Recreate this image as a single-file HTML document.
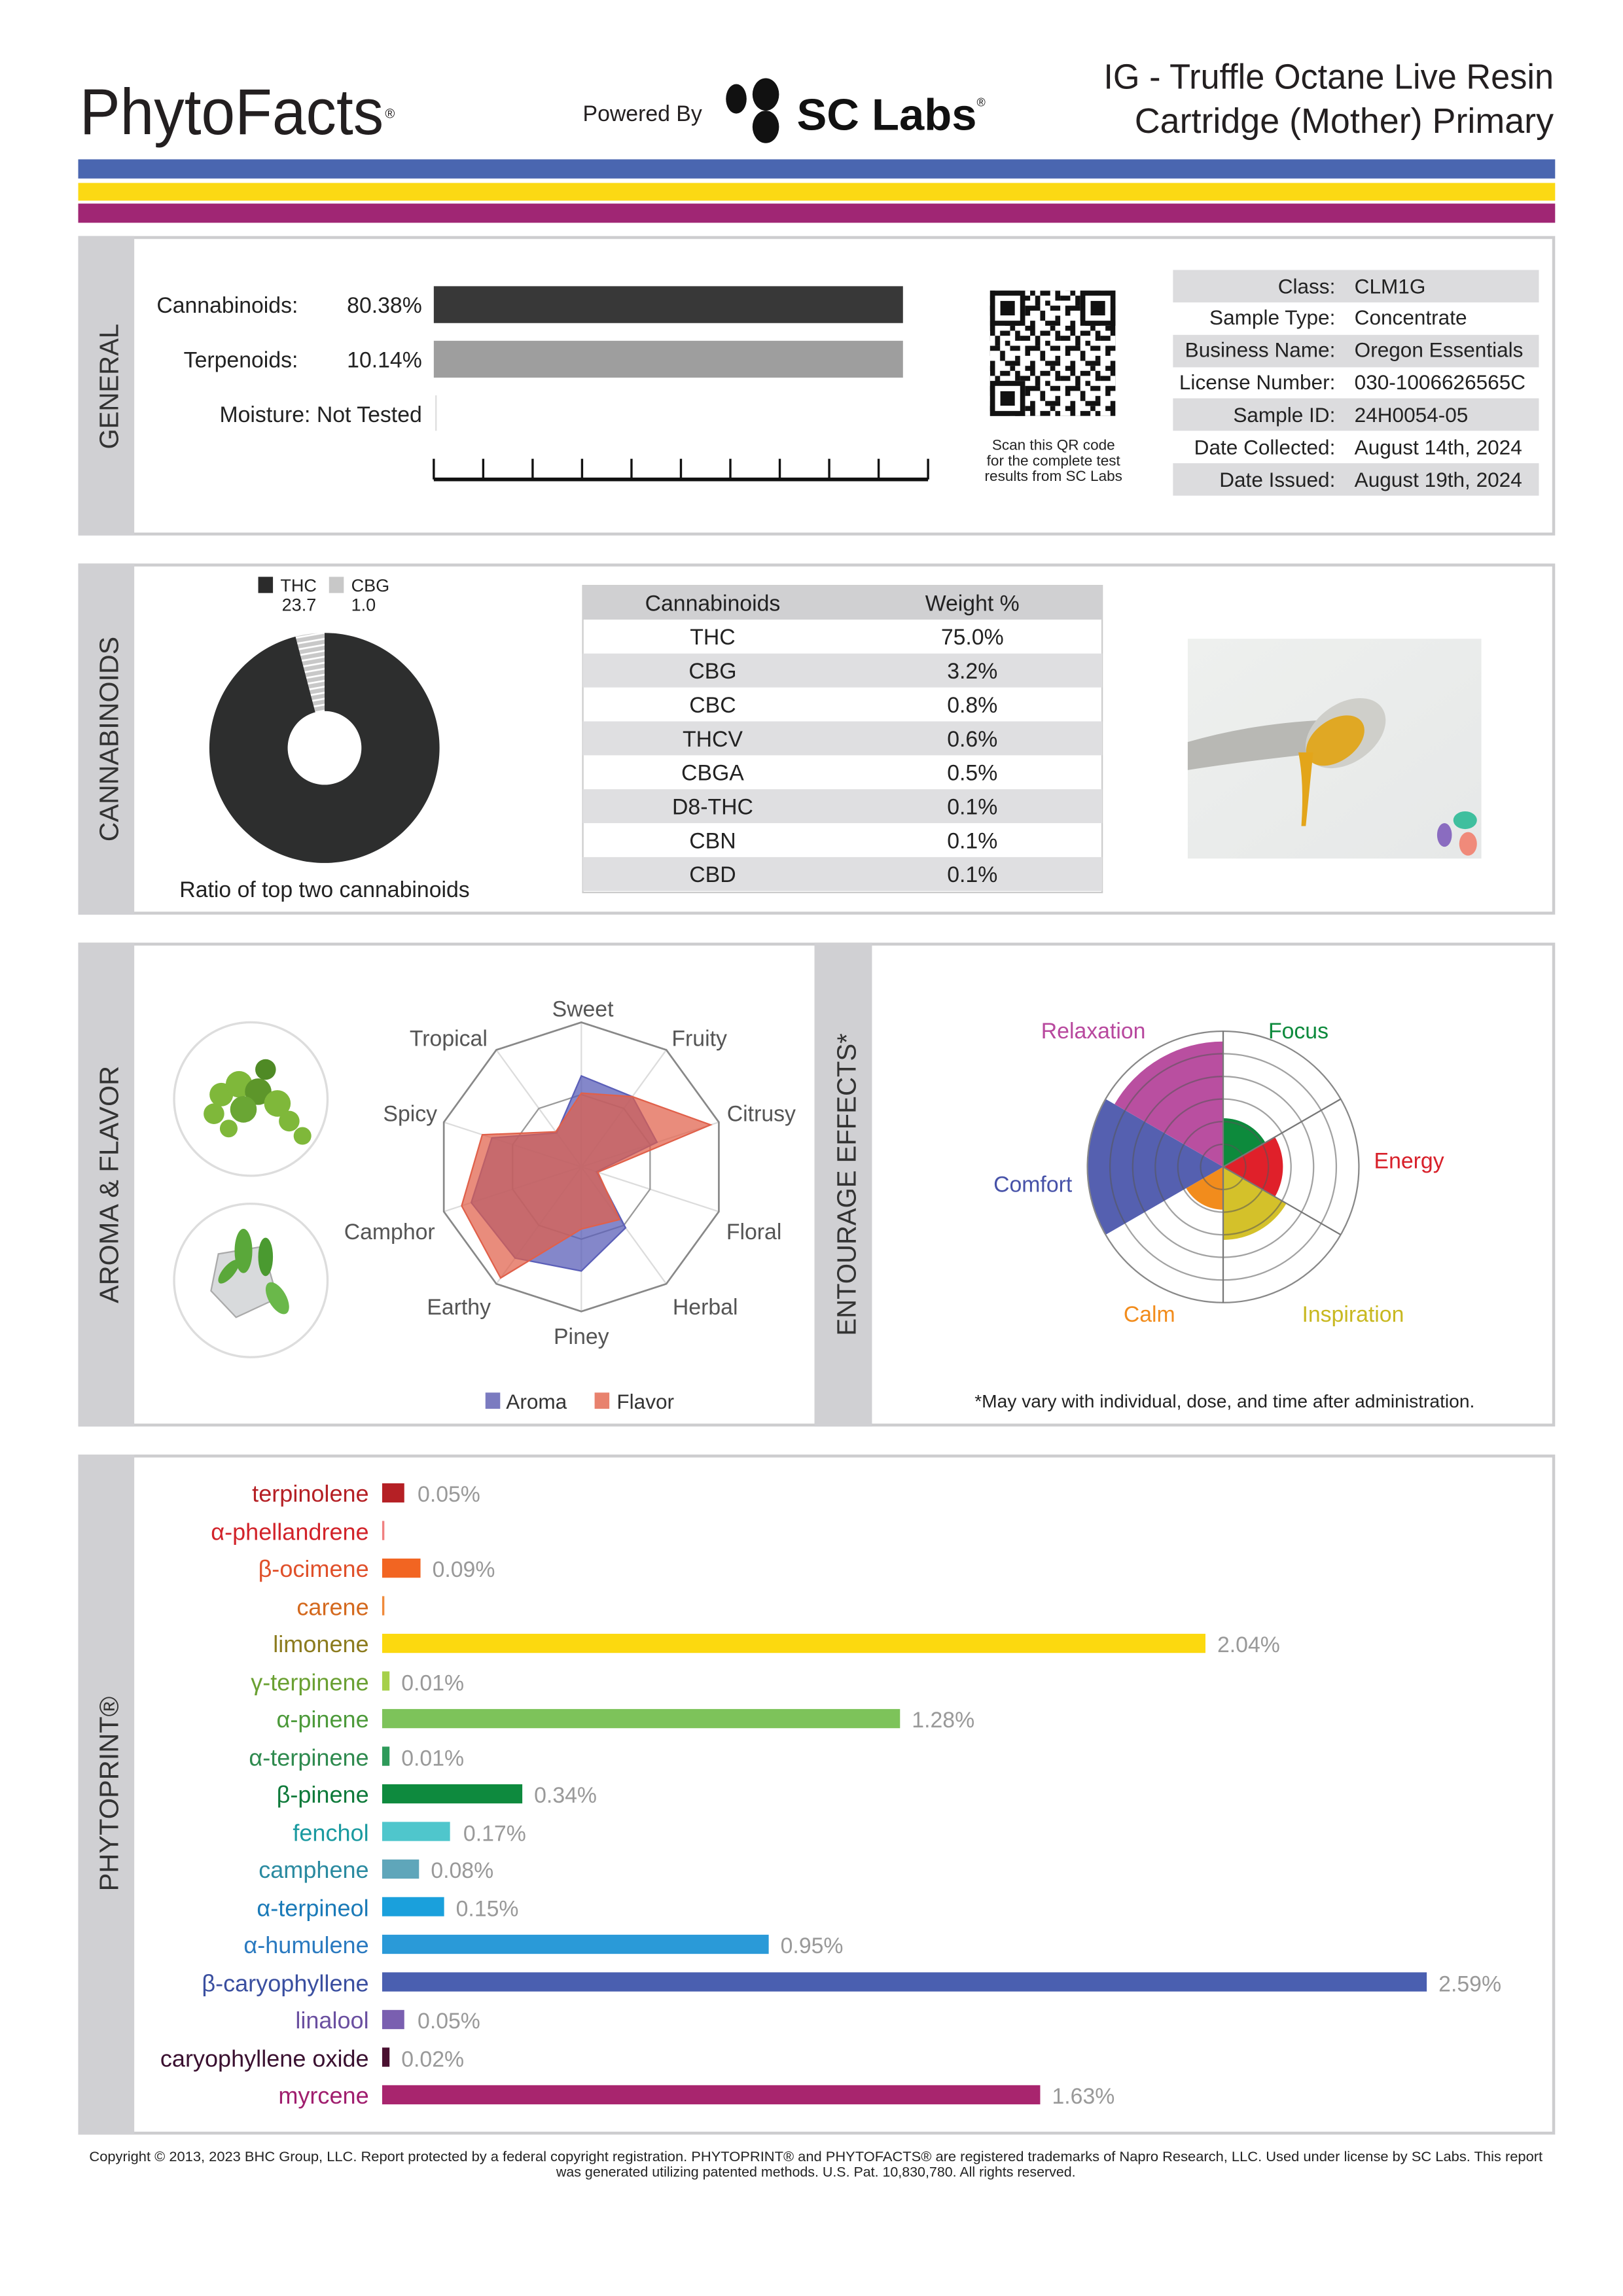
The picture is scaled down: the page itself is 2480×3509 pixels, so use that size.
<!DOCTYPE html>
<html><head><meta charset="utf-8"><style>
html,body{margin:0;padding:0;background:#fff}
svg{display:block}
text{font-family:"Liberation Sans",sans-serif}
</style></head><body>
<svg width="2480" height="3509" viewBox="0 0 1100 1556.4" xmlns="http://www.w3.org/2000/svg">
<defs>
<pattern id="qr" x="671" y="197" width="27.2" height="27.2" patternUnits="userSpaceOnUse">
<rect width="27.2" height="27.2" fill="#fff"/>
<g fill="#111">
<rect x="0" y="0" width="3.4" height="3.4"/><rect x="6.8" y="0" width="6.8" height="3.4"/><rect x="17" y="0" width="3.4" height="6.8"/>
<rect x="3.4" y="3.4" width="3.4" height="6.8"/><rect x="10.2" y="6.8" width="3.4" height="3.4"/><rect x="20.4" y="3.4" width="6.8" height="3.4"/>
<rect x="0" y="10.2" width="6.8" height="3.4"/><rect x="13.6" y="10.2" width="6.8" height="3.4"/><rect x="23.8" y="10.2" width="3.4" height="6.8"/>
<rect x="6.8" y="13.6" width="3.4" height="6.8"/><rect x="17" y="17" width="3.4" height="3.4"/><rect x="0" y="20.4" width="3.4" height="6.8"/>
<rect x="10.2" y="20.4" width="10.2" height="3.4"/><rect x="23.8" y="23.8" width="3.4" height="3.4"/><rect x="13.6" y="23.8" width="3.4" height="3.4"/>
</g></pattern>
<pattern id="hatch" width="4" height="4" patternUnits="userSpaceOnUse" patternTransform="rotate(80)">
<rect width="4" height="4" fill="#c8c8c8"/><rect width="1.2" height="4" fill="#fff"/></pattern>
<linearGradient id="photo" x1="0" y1="0" x2="1" y2="1"><stop offset="0" stop-color="#eef0ee"/><stop offset="1" stop-color="#e6e8e8"/></linearGradient>
</defs>

<!-- Header -->
<text x="54" y="91" font-size="44" fill="#231f20" textLength="206" lengthAdjust="spacingAndGlyphs">PhytoFacts</text>
<text x="261" y="80" font-size="9" fill="#231f20">®</text>
<text x="395" y="82" font-size="15" fill="#231f20">Powered By</text>
<ellipse cx="499" cy="67" rx="7" ry="10" fill="#111"/>
<ellipse cx="519" cy="64" rx="9" ry="11" fill="#111"/>
<ellipse cx="519" cy="86" rx="9" ry="11" fill="#111"/>
<text x="540" y="88" font-size="30" font-weight="bold" fill="#111" textLength="122" lengthAdjust="spacingAndGlyphs">SC Labs</text>
<text x="662" y="72" font-size="8" fill="#111">®</text>
<text x="1053" y="60" font-size="24" fill="#231f20" text-anchor="end" textLength="305" lengthAdjust="spacingAndGlyphs">IG - Truffle Octane Live Resin</text>
<text x="1053" y="90" font-size="24" fill="#231f20" text-anchor="end" textLength="284" lengthAdjust="spacingAndGlyphs">Cartridge (Mother) Primary</text>

<rect x="53" y="108" width="1001" height="13" fill="#4a66b0"/>
<rect x="53" y="124" width="1001" height="12" fill="#fbd914"/>
<rect x="53" y="138" width="1001" height="13" fill="#a02674"/>

<!-- GENERAL -->
<rect x="54" y="161" width="999" height="201" fill="#fff" stroke="#cdcdcf" stroke-width="2"/>
<rect x="53" y="160" width="38" height="203" fill="#d0d0d3"/>
<text transform="translate(80,262) rotate(-90)" font-size="18" fill="#333" text-anchor="middle" textLength="85" lengthAdjust="spacingAndGlyphs">GENERAL</text>
<g font-size="15" fill="#222">
<text x="202" y="212" text-anchor="end">Cannabinoids:</text>
<text x="286" y="212" text-anchor="end">80.38%</text>
<text x="202" y="249" text-anchor="end">Terpenoids:</text>
<text x="286" y="249" text-anchor="end">10.14%</text>
<text x="286" y="286" text-anchor="end">Moisture:  Not Tested</text>
</g>
<rect x="294" y="194" width="318" height="25" fill="#383838"/>
<rect x="294" y="231" width="318" height="25" fill="#9e9e9e"/>
<rect x="295" y="268" width="1" height="24" fill="#ddd"/>
<g stroke="#111" stroke-width="1.5">
<line x1="294" y1="325" x2="629" y2="325" stroke-width="2.5"/>
<line x1="294" y1="311" x2="294" y2="325"/><line x1="327.5" y1="311" x2="327.5" y2="325"/><line x1="361" y1="311" x2="361" y2="325"/><line x1="394.5" y1="311" x2="394.5" y2="325"/><line x1="428" y1="311" x2="428" y2="325"/><line x1="461.5" y1="311" x2="461.5" y2="325"/><line x1="495" y1="311" x2="495" y2="325"/><line x1="528.5" y1="311" x2="528.5" y2="325"/><line x1="562" y1="311" x2="562" y2="325"/><line x1="595.5" y1="311" x2="595.5" y2="325"/><line x1="629" y1="311" x2="629" y2="325"/>
</g>
<rect x="671" y="197" width="85" height="85" fill="url(#qr)"/>
<g fill="#fff" stroke="#111" stroke-width="3.4">
<rect x="672.7" y="198.7" width="20.4" height="20.4"/><rect x="733.9" y="198.7" width="20.4" height="20.4"/><rect x="672.7" y="259.9" width="20.4" height="20.4"/>
</g>
<g fill="#111"><rect x="678" y="204" width="9.8" height="9.8"/><rect x="739.2" y="204" width="9.8" height="9.8"/><rect x="678" y="265.2" width="9.8" height="9.8"/></g>
<g font-size="10" fill="#222" text-anchor="middle">
<text x="714" y="305">Scan this QR code</text><text x="714" y="315.5">for the complete test</text><text x="714" y="326">results from SC Labs</text>
</g>
<g fill="#dcdcde">
<rect x="795" y="183" width="248" height="22"/><rect x="795" y="227" width="248" height="22"/><rect x="795" y="270" width="248" height="22"/><rect x="795" y="314" width="248" height="22"/>
</g>
<g font-size="14" fill="#222">
<text x="905" y="199" text-anchor="end">Class:</text><text x="918" y="199">CLM1G</text>
<text x="905" y="220" text-anchor="end">Sample Type:</text><text x="918" y="220">Concentrate</text>
<text x="905" y="242" text-anchor="end">Business Name:</text><text x="918" y="242">Oregon Essentials</text>
<text x="905" y="264" text-anchor="end">License Number:</text><text x="918" y="264">030-1006626565C</text>
<text x="905" y="286" text-anchor="end">Sample ID:</text><text x="918" y="286">24H0054-05</text>
<text x="905" y="308" text-anchor="end">Date Collected:</text><text x="918" y="308">August 14th, 2024</text>
<text x="905" y="330" text-anchor="end">Date Issued:</text><text x="918" y="330">August 19th, 2024</text>
</g>

<!-- CANNABINOIDS -->
<rect x="54" y="383" width="999" height="236" fill="#fff" stroke="#cdcdcf" stroke-width="2"/>
<rect x="53" y="382" width="38" height="238" fill="#d0d0d3"/>
<text transform="translate(80,501) rotate(-90)" font-size="18" fill="#333" text-anchor="middle" textLength="139" lengthAdjust="spacingAndGlyphs">CANNABINOIDS</text>
<rect x="175" y="391" width="10" height="11" fill="#2b2b2b"/>
<text x="190" y="401" font-size="12" fill="#222">THC</text>
<text x="191" y="414" font-size="12" fill="#222">23.7</text>
<rect x="223" y="391" width="10" height="11" fill="#c8c8c8"/>
<text x="238" y="401" font-size="12" fill="#222">CBG</text>
<text x="238" y="414" font-size="12" fill="#222">1.0</text>
<path d="M220,429 A78,78 0 1 1 200.3,431.5 L213.7,482.8 A25,25 0 1 0 220,482 Z" fill="#2d2e2e" fill-rule="evenodd"/>
<path d="M220,429 L220,482 A25,25 0 0 0 213.7,482.8 L200.3,431.5 A78,78 0 0 1 220,429 Z" fill="url(#hatch)"/>
<text x="220" y="608" font-size="15" fill="#222" text-anchor="middle">Ratio of top two cannabinoids</text>
<rect x="395" y="397" width="352" height="208" fill="#fff" stroke="#ccc" stroke-width="1"/>
<rect x="395" y="397" width="352" height="23" fill="#d0d0d2"/>
<g fill="#dfdfe1"><rect x="395" y="443" width="352" height="23"/><rect x="395" y="489" width="352" height="23"/><rect x="395" y="535" width="352" height="23"/><rect x="395" y="581" width="352" height="23"/></g>
<g font-size="15" fill="#222" text-anchor="middle">
<text x="483" y="414">Cannabinoids</text><text x="659" y="414">Weight %</text>
<text x="483" y="437">THC</text><text x="659" y="437">75.0%</text>
<text x="483" y="460">CBG</text><text x="659" y="460">3.2%</text>
<text x="483" y="483">CBC</text><text x="659" y="483">0.8%</text>
<text x="483" y="506">THCV</text><text x="659" y="506">0.6%</text>
<text x="483" y="529">CBGA</text><text x="659" y="529">0.5%</text>
<text x="483" y="552">D8-THC</text><text x="659" y="552">0.1%</text>
<text x="483" y="575">CBN</text><text x="659" y="575">0.1%</text>
<text x="483" y="598">CBD</text><text x="659" y="598">0.1%</text>
</g>
<rect x="805" y="433" width="199" height="149" fill="url(#photo)"/>
<path d="M805,503 Q850,490 900,488 L900,510 Q850,515 805,522 Z" fill="#b8b8b4"/>
<ellipse cx="912" cy="497" rx="30" ry="20" transform="rotate(-35 912 497)" fill="#cfcfca"/>
<ellipse cx="905" cy="502" rx="22" ry="14" transform="rotate(-35 905 502)" fill="#e0a824"/>
<path d="M880,510 Q884,530 882,560 L885,560 Q888,530 890,510 Z" fill="#e3a51a"/>
<ellipse cx="993" cy="556" rx="8" ry="6" fill="#3fbf9e"/>
<ellipse cx="979" cy="566" rx="5" ry="8" fill="#8a6cc0"/>
<ellipse cx="995" cy="572" rx="6" ry="8" fill="#f08a7a"/>

<!-- AROMA & FLAVOR -->
<rect x="54" y="640" width="999" height="326" fill="#fff" stroke="#cdcdcf" stroke-width="2"/>
<rect x="53" y="639" width="38" height="328" fill="#d0d0d3"/>
<rect x="552" y="639" width="39" height="328" fill="#d0d0d3"/>
<text transform="translate(80,803) rotate(-90)" font-size="18" fill="#333" text-anchor="middle" textLength="161" lengthAdjust="spacingAndGlyphs">AROMA &amp; FLAVOR</text>
<text transform="translate(580,803) rotate(-90)" font-size="18" fill="#333" text-anchor="middle" textLength="205" lengthAdjust="spacingAndGlyphs">ENTOURAGE EFFECTS*</text>
<circle cx="170" cy="745" r="52" fill="#fff" stroke="#ddd" stroke-width="1.5"/>
<circle cx="170" cy="868" r="52" fill="#fff" stroke="#ddd" stroke-width="1.5"/>
<g fill="#7fb83a">
<circle cx="150" cy="742" r="8"/><circle cx="162" cy="735" r="9"/><circle cx="175" cy="740" r="9" fill="#5d962a"/><circle cx="188" cy="748" r="9"/><circle cx="196" cy="760" r="7"/><circle cx="165" cy="752" r="9" fill="#6aa634"/><circle cx="145" cy="755" r="7"/><circle cx="180" cy="725" r="7" fill="#4f8a25"/><circle cx="205" cy="770" r="6"/><circle cx="155" cy="765" r="6"/>
</g>
<g>
<path d="M148,850 L178,845 L188,880 L160,893 L143,875 Z" fill="#d8dadc" stroke="#aaa" stroke-width="1"/>
<ellipse cx="165" cy="848" rx="6" ry="15" fill="#5aa83a"/>
<ellipse cx="180" cy="852" rx="5" ry="13" fill="#4a9a30"/>
<ellipse cx="188" cy="880" rx="6" ry="12" fill="#6ab84a" transform="rotate(-30 188 880)"/>
<ellipse cx="155" cy="862" rx="4" ry="10" fill="#5aa83a" transform="rotate(40 155 862)"/>
</g>
<g stroke="#dcdcdc" stroke-width="1" fill="none">
<line x1="394" y1="791" x2="394" y2="693"/><line x1="394" y1="791" x2="451.6" y2="711.7"/><line x1="394" y1="791" x2="487.2" y2="760.7"/><line x1="394" y1="791" x2="487.2" y2="821.3"/><line x1="394" y1="791" x2="451.6" y2="870.3"/><line x1="394" y1="791" x2="394" y2="889"/><line x1="394" y1="791" x2="336.4" y2="870.3"/><line x1="394" y1="791" x2="300.8" y2="821.3"/><line x1="394" y1="791" x2="300.8" y2="760.7"/><line x1="394" y1="791" x2="336.4" y2="711.7"/>
<polygon points="394,742 422.8,751.4 440.6,775.9 440.6,806.1 422.8,830.6 394,840 365.2,830.6 347.4,806.1 347.4,775.9 365.2,751.4" stroke="#999"/>
</g>
<polygon points="394,693 451.6,711.7 487.2,760.7 487.2,821.3 451.6,870.3 394,889 336.4,870.3 300.8,821.3 300.8,760.7 336.4,711.7" fill="none" stroke="#888" stroke-width="1.2"/>
<polygon points="394,729.3 428.6,743.4 445.3,774.3 404.3,794.3 424,832.3 394,861.6 349.1,852.8 319.4,815.2 333.4,771.3 377.3,768" fill="#5b5fb8" fill-opacity="0.75" stroke="#5b5fb8" stroke-width="1"/>
<polygon points="394,741 428.6,743.4 481.6,762.5 405.2,794.6 419.9,826.7 394,833.1 339.3,866.3 312.9,817.4 326.9,769.2 376.7,767.2" fill="#e0604a" fill-opacity="0.72" stroke="#e0604a" stroke-width="1"/>
<g font-size="15" fill="#555" text-anchor="middle">
<text x="395" y="689">Sweet</text><text x="474" y="709">Fruity</text><text x="516" y="760">Citrusy</text><text x="511" y="840">Floral</text><text x="478" y="891">Herbal</text><text x="394" y="911">Piney</text><text x="311" y="891">Earthy</text><text x="264" y="840">Camphor</text><text x="278" y="760">Spicy</text><text x="304" y="709">Tropical</text>
</g>
<rect x="329" y="944" width="10" height="11" fill="#7b7bc0"/>
<text x="343" y="955" font-size="14" fill="#333">Aroma</text>
<rect x="403" y="944" width="10" height="11" fill="#e8826e"/>
<text x="418" y="955" font-size="14" fill="#333">Flavor</text>

<!-- Entourage polar -->
<path d="M829,791 L829,758 A33,33 0 0 1 857.6,774.5 Z" fill="#0d8a3c"/>
<path d="M829,791 L864.1,770.75 A40.5,40.5 0 0 1 864.1,811.25 Z" fill="#e0202a"/>
<path d="M829,791 L871.9,815.75 A49.5,49.5 0 0 1 829,840.5 Z" fill="#d4c12a"/>
<path d="M829,791 L829,820 A29,29 0 0 1 803.9,805.5 Z" fill="#f28c1c"/>
<path d="M829,791 L749.3,837 A92,92 0 0 1 749.3,745 Z" fill="#5560b0"/>
<path d="M829,791 L755.4,748.5 A85,85 0 0 1 829,706 Z" fill="#b94fa0"/>
<g fill="none" stroke="#555" stroke-opacity="0.55" stroke-width="1">
<circle cx="829" cy="791" r="15.3"/><circle cx="829" cy="791" r="30.7"/><circle cx="829" cy="791" r="46"/><circle cx="829" cy="791" r="61.3"/><circle cx="829" cy="791" r="76.7"/>
</g>
<circle cx="829" cy="791" r="92" fill="none" stroke="#888" stroke-width="1"/>
<g stroke="#777" stroke-width="1">
<line x1="829" y1="699" x2="829" y2="883"/><line x1="829" y1="791" x2="908.7" y2="745"/><line x1="829" y1="791" x2="908.7" y2="837"/>
</g>
<g font-size="15" text-anchor="middle">
<text x="741" y="704" fill="#b8489e">Relaxation</text>
<text x="880" y="704" fill="#0d8a3c">Focus</text>
<text x="955" y="792" fill="#d8202a">Energy</text>
<text x="700" y="808" fill="#4752a8">Comfort</text>
<text x="779" y="896" fill="#f28c1c">Calm</text>
<text x="917" y="896" fill="#c8b820">Inspiration</text>
</g>
<text x="830" y="954" font-size="12.5" fill="#222" text-anchor="middle">*May vary with individual, dose, and time after administration.</text>

<!-- PHYTOPRINT -->
<rect x="54" y="987" width="999" height="459" fill="#fff" stroke="#cdcdcf" stroke-width="2"/>
<rect x="53" y="986" width="38" height="461" fill="#d0d0d3"/>
<text transform="translate(80,1216) rotate(-90)" font-size="18" fill="#333" text-anchor="middle" textLength="132" lengthAdjust="spacingAndGlyphs">PHYTOPRINT®</text>
<g font-size="16" text-anchor="end">
<text x="250" y="1018" fill="#b52025">terpinolene</text>
<text x="250" y="1044" fill="#d2232a">α-phellandrene</text>
<text x="250" y="1069" fill="#e0502a">β-ocimene</text>
<text x="250" y="1095" fill="#d4691e">carene</text>
<text x="250" y="1120" fill="#8c7b1e">limonene</text>
<text x="250" y="1146" fill="#6aa032">γ-terpinene</text>
<text x="250" y="1171" fill="#4c9a3a">α-pinene</text>
<text x="250" y="1197" fill="#2e8a4e">α-terpinene</text>
<text x="250" y="1222" fill="#0e7a3a">β-pinene</text>
<text x="250" y="1248" fill="#1a9aa0">fenchol</text>
<text x="250" y="1273" fill="#2a8aa0">camphene</text>
<text x="250" y="1299" fill="#1a7ab8">α-terpineol</text>
<text x="250" y="1324" fill="#2a7ac0">α-humulene</text>
<text x="250" y="1350" fill="#3a4fa0">β-caryophyllene</text>
<text x="250" y="1375" fill="#6a4fa0">linalool</text>
<text x="250" y="1401" fill="#3a1030">caryophyllene oxide</text>
<text x="250" y="1426" fill="#a01e6e">myrcene</text>
</g>
<rect x="259" y="1005.5" width="15" height="13" fill="#b52025"/>
<rect x="259" y="1031" width="1.5" height="13" fill="#f08080"/>
<rect x="259" y="1056.5" width="26" height="13" fill="#f26522"/>
<rect x="259" y="1082" width="1.5" height="13" fill="#f08a3a"/>
<rect x="259" y="1107.5" width="558" height="13" fill="#fcd90f"/>
<rect x="259" y="1133" width="5" height="13" fill="#a6d04a"/>
<rect x="259" y="1158.5" width="351" height="13" fill="#7dc35a"/>
<rect x="259" y="1184" width="5" height="13" fill="#2e9a5a"/>
<rect x="259" y="1209.5" width="95" height="13" fill="#0e8a3e"/>
<rect x="259" y="1235" width="46" height="13" fill="#4fc6cc"/>
<rect x="259" y="1260.5" width="25" height="13" fill="#5fa6ba"/>
<rect x="259" y="1286" width="42" height="13" fill="#1aa0dc"/>
<rect x="259" y="1311.5" width="262" height="13" fill="#2a9ad8"/>
<rect x="259" y="1337" width="708" height="13" fill="#4a5fb0"/>
<rect x="259" y="1362.5" width="15" height="13" fill="#7a5fb0"/>
<rect x="259" y="1388" width="5" height="13" fill="#4a1030"/>
<rect x="259" y="1413.5" width="446" height="13" fill="#a8256e"/>
<g font-size="15" fill="#999">
<text x="283" y="1018">0.05%</text>
<text x="293" y="1069">0.09%</text>
<text x="825" y="1120">2.04%</text>
<text x="272" y="1146">0.01%</text>
<text x="618" y="1171">1.28%</text>
<text x="272" y="1197">0.01%</text>
<text x="362" y="1222">0.34%</text>
<text x="314" y="1248">0.17%</text>
<text x="292" y="1273">0.08%</text>
<text x="309" y="1299">0.15%</text>
<text x="529" y="1324">0.95%</text>
<text x="975" y="1350">2.59%</text>
<text x="283" y="1375">0.05%</text>
<text x="272" y="1401">0.02%</text>
<text x="713" y="1426">1.63%</text>
</g>

<g font-size="9.5" fill="#222" text-anchor="middle">
<text x="553" y="1465" textLength="985" lengthAdjust="spacingAndGlyphs">Copyright © 2013, 2023 BHC Group, LLC. Report protected by a federal copyright registration. PHYTOPRINT® and PHYTOFACTS® are registered trademarks of Napro Research, LLC. Used under license by SC Labs. This report</text>
<text x="553" y="1475.5">was generated utilizing patented methods. U.S. Pat. 10,830,780. All rights reserved.</text>
</g>
</svg>
</body></html>
